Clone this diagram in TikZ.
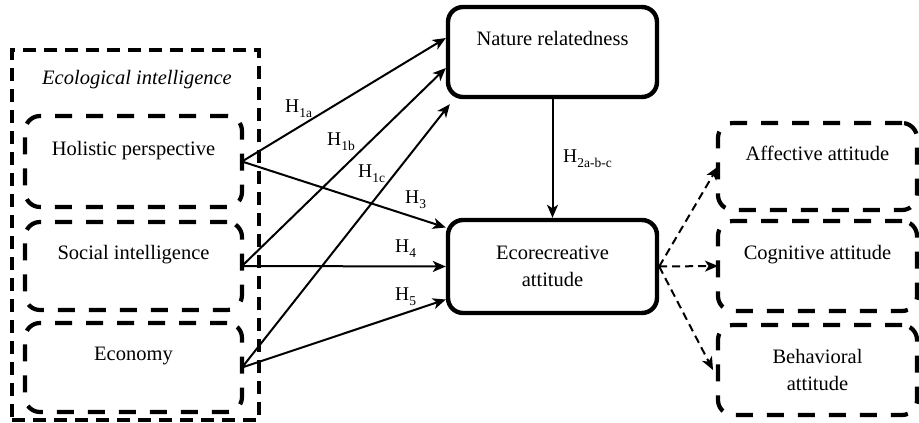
\documentclass[tikz,border=0pt]{standalone}
\usepackage{fontspec}
\setmainfont{Liberation Serif}
\usetikzlibrary{arrows.meta}
\newcommand\hsub[1]{\raisebox{-0.28em}{\fontsize{13.5}{13.5}\selectfont #1}}
\begin{document}
\begin{tikzpicture}[x=1pt,y=-1pt,
  every node/.style={font=\fontsize{20.5}{27}\selectfont},
  outerbox/.style={draw, line width=4.4pt, dash pattern=on 13pt off 8pt, inner sep=0pt, outer sep=0pt},
  dbox/.style={draw, line width=4.2pt, rounded corners=15pt, dash pattern=on 17pt off 14pt, align=center, inner sep=0pt, outer sep=0pt},
  sbox/.style={draw, line width=4.4pt, rounded corners=15pt, align=center, inner sep=0pt},
  conn/.style={line width=2pt, -{Stealth[length=13pt,width=11pt,inset=3.5pt]}},
  dconn/.style={conn, dash pattern=on 8pt off 5pt},
  hlab/.style={anchor=base west, inner sep=0pt, font=\fontsize{19.5}{20}\selectfont}
]
\useasboundingbox (0,0) rectangle (919,423);

% left group
\node[outerbox, minimum width=247pt, minimum height=370pt] (ei) at (135.5,235) {};
\node[font=\fontsize{20.5}{27}\selectfont\itshape] (eititle) at (137,80) {Ecological intelligence};
\node[dbox, minimum width=217pt, minimum height=91pt] (hol) at (133.5,161.5) {Holistic perspective\\\mbox{}};
\node[dbox, minimum width=217pt, minimum height=88pt] (soc) at (133.5,266) {Social intelligence\\\mbox{}};
\node[dbox, minimum width=217pt, minimum height=89pt] (econ) at (133.5,367.5) {Economy\\\mbox{}};

% central boxes
\node[sbox, minimum width=209pt, minimum height=90pt] (nat) at (552.5,52) {Nature relatedness\\\mbox{}};
\node[sbox, minimum width=209pt, minimum height=93pt] (eco) at (552.5,266.5) {Ecorecreative\\attitude};

% right boxes
\node[dbox, minimum width=199pt, minimum height=87pt] (aff) at (817.5,166.5) {Affective attitude\\\mbox{}};
\node[dbox, minimum width=199pt, minimum height=90pt] (cog) at (817.5,266) {Cognitive attitude\\\mbox{}};
\node[dbox, minimum width=199pt, minimum height=90pt] (beh) at (817.5,370) {Behavioral\\attitude};

% connectors
\draw[conn] (hol.east) -- ([yshift=14pt]nat.west);
\draw[conn] (hol.east) -- ([yshift=39pt]eco.west);
\draw[conn] (soc.east) -- ([yshift=-16pt]nat.west);
\draw[conn] (soc.east) -- (eco.west);
\draw[conn] (econ.east) -- ([xshift=4pt,yshift=-5pt]nat.south west);
\draw[conn] (econ.east) -- ([yshift=-33pt]eco.west);
\draw[conn] (nat.south) -- (eco.north);
\draw[dconn] (eco.east) -- (aff.west);
\draw[dconn] (eco.east) -- (cog.west);
\draw[dconn] (eco.east) -- ([xshift=-5pt]beh.west);

% labels
\node[hlab] (h1a) at (285,112) {H\hsub{1a}};
\node[hlab] (h1b) at (327,145) {H\hsub{1b}};
\node[hlab] (h1c) at (358,177) {H\hsub{1c}};
\node[hlab] (h3) at (405,203) {H\hsub{3}};
\node[hlab] (h4) at (395,252) {H\hsub{4}};
\node[hlab] (h5) at (395,300) {H\hsub{5}};
\node[hlab] (h2) at (563,162) {H\hsub{2a-b-c}};
\end{tikzpicture}
\end{document}
